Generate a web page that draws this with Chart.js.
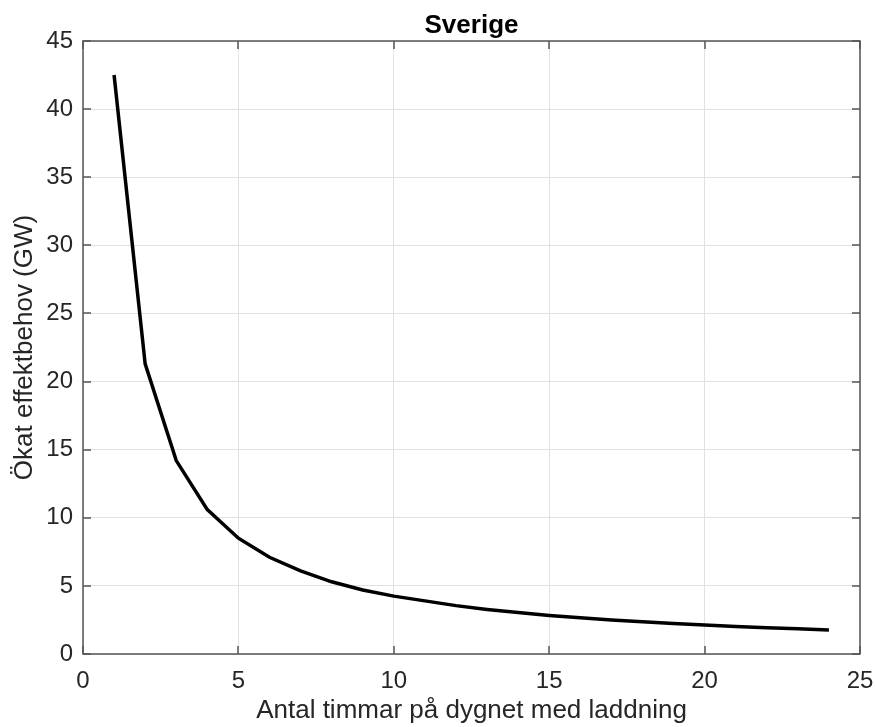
<!DOCTYPE html>
<html>
<head>
<meta charset="utf-8">
<script src="https://cdn.jsdelivr.net/npm/chart.js@4"></script>
<style>
  html, body { margin: 0; padding: 0; background: #fff; }
  #wrap { width: 875px; height: 727px; }
</style>
</head>
<body>
<div id="wrap"><canvas id="chart" width="875" height="727"></canvas></div>
<script>
// hours of charging per day
const hours = [1, 2, 3, 4, 5, 6, 7, 8, 9, 10, 11, 12, 13, 14, 15, 16, 17, 18, 19, 20, 21, 22, 23, 24];
// increased power demand (GW)
const demand = [42.5, 21.3, 14.2, 10.6, 8.5, 7.1, 6.1, 5.3, 4.7, 4.25, 3.9, 3.55, 3.27, 3.04, 2.83, 2.66, 2.5, 2.36, 2.24, 2.13, 2.02, 1.93, 1.85, 1.77];

const xTicks = [0, 5, 10, 15, 20, 25];
const yTicks = [0, 5, 10, 15, 20, 25, 30, 35, 40, 45];

const titleText = "Sverige";
const xLabel = "Antal timmar på dygnet med laddning";
const yLabel = "Ökat effektbehov (GW)";

const FONT = "'Liberation Sans', Arial, Helvetica, sans-serif";
const AXIS_COLOR = "#262626";

/* ============================
   BOX + INWARD TICKS (matlab style)
============================ */
const boxPlugin = {
  id: "boxPlugin",
  afterDraw(chart) {
    const { ctx, chartArea: a, scales } = chart;
    const len = 8;
    ctx.save();
    ctx.strokeStyle = "#555";
    ctx.lineWidth = 1.5;
    ctx.strokeRect(a.left, a.top, a.right - a.left, a.bottom - a.top);
    ctx.beginPath();
    xTicks.forEach((v) => {
      const px = Math.round(scales.x.getPixelForValue(v));
      ctx.moveTo(px, a.bottom); ctx.lineTo(px, a.bottom - len);
      ctx.moveTo(px, a.top); ctx.lineTo(px, a.top + len);
    });
    yTicks.forEach((v) => {
      const py = Math.round(scales.y.getPixelForValue(v));
      ctx.moveTo(a.left, py); ctx.lineTo(a.left + len, py);
      ctx.moveTo(a.right, py); ctx.lineTo(a.right - len, py);
    });
    ctx.stroke();

    // title
    ctx.fillStyle = "#000";
    ctx.font = "bold 26px " + FONT;
    ctx.textAlign = "center";
    ctx.textBaseline = "alphabetic";
    ctx.fillText(titleText, (a.left + a.right) / 2, a.top - 8);
    ctx.restore();
  },
};

new Chart(document.getElementById("chart"), {
  type: "line",
  data: {
    datasets: [
      {
        data: hours.map((h, i) => ({ x: h, y: demand[i] })),
        borderColor: "#000",
        borderWidth: 3.5,
        pointRadius: 0,
        tension: 0,
        fill: false,
      },
    ],
  },
  options: {
    responsive: false,
    animation: false,
    layout: { padding: { top: 41, right: 15, left: 0, bottom: 0 } },
    plugins: { legend: { display: false }, tooltip: { enabled: false } },
    scales: {
      x: {
        type: "linear",
        min: 0,
        max: 25,
        afterBuildTicks: (s) => { s.ticks = xTicks.map((v) => ({ value: v })); },
        afterFit: (s) => { s.height = 73; s.paddingLeft = 0; s.paddingRight = 0; },
        grid: { color: "#e1e1e1", drawTicks: false },
        border: { display: false },
        ticks: { color: AXIS_COLOR, font: { family: FONT, size: 24 }, padding: 13, maxRotation: 0 },
        title: { display: true, text: xLabel, color: AXIS_COLOR, font: { family: FONT, size: 26 }, padding: { top: 0, bottom: 1 } },
      },
      y: {
        min: 0,
        max: 45,
        afterBuildTicks: (s) => { s.ticks = yTicks.map((v) => ({ value: v })); },
        afterFit: (s) => { s.width = 83; s.paddingTop = 0; s.paddingBottom = 0; },
        grid: { color: "#e1e1e1", drawTicks: false },
        border: { display: false },
        ticks: { color: AXIS_COLOR, font: { family: FONT, size: 24 }, padding: 10 },
        title: { display: true, text: yLabel, color: AXIS_COLOR, font: { family: FONT, size: 26 }, padding: { top: 9, bottom: 0 } },
      },
    },
  },
  plugins: [boxPlugin],
});
</script>
</body>
</html>
